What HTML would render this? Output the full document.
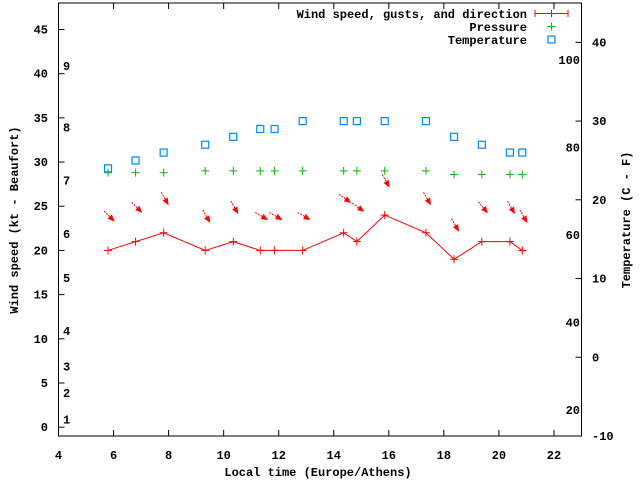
<!DOCTYPE html>
<html><head><meta charset="utf-8"><style>
body{margin:0;background:#fff}
svg text{font-family:"Liberation Mono",monospace;font-weight:bold;font-size:12px;fill:#000}
</style></head><body>
<svg id="c" width="640" height="480" viewBox="0 0 640 480" xmlns="http://www.w3.org/2000/svg"></svg>
<script>
const times=[5.8,6.8,7.82,9.33,10.35,11.33,11.85,12.87,14.36,14.84,15.85,17.35,18.37,19.38,20.4,20.85];
const wind=[20,21,22,20,21,20,20,20,22,21,24,22,19,21,21,20];
const windDir=[315,315,330,330,330,300,300,300,305,305,330,330,330,320,330,330];
const pressure=[28.8,28.8,28.8,29,29,29,29,29,29,29,29,29,28.6,28.6,28.6,28.6];
const temperature=[24,25,26,27,28,29,29,30,30,30,30,30,28,27,26,26];
const xTicks=[4,6,8,10,12,14,16,18,20,22];
const yTicks=[0,5,10,15,20,25,30,35,40,45];
const tTicks=[-10,0,10,20,30,40];
const fTicks=[20,40,60,80,100];
const bftLabels=[1,2,3,4,5,6,7,8,9];
const bftKt=[1,4,7,11,17,22,28,34,41];

const L=58.5,R=581.5,T=3,B=436;
const xS=v=>L+(v-4)/(23-4)*(R-L);
const yS=v=>B-(v+1)/(48+1)*(B-T);
const tS=c=>B-(c+10)/(45+10)*(B-T);
const svg=document.getElementById('c');
const NS='http://www.w3.org/2000/svg';
function mk(tag,attrs,parent){const e=document.createElementNS(NS,tag);for(const k in attrs)e.setAttribute(k,attrs[k]);(parent||svg).appendChild(e);return e;}
function txt(x,y,s,anchor,parent){const e=mk('text',{x:x,y:y,'text-anchor':anchor||'start'},parent);e.textContent=s;return e;}

// frame
const fr=mk('rect',{x:L,y:T,width:R-L,height:B-T,fill:'none',stroke:'#000','stroke-width':1});



// x ticks
const gx=mk('g',{});


xTicks.forEach(v=>{const x=xS(v);
 mk('line',{x1:x,y1:B,x2:x,y2:B-6,stroke:'#000'},gx);
 mk('line',{x1:x,y1:T,x2:x,y2:T+6,stroke:'#000'},gx);
 const t=txt(x,459,String(v),'middle',gx);
 
 });
const gy=mk('g',{});


yTicks.forEach(v=>{const y=yS(v);
 mk('line',{x1:L,y1:y,x2:L+6,y2:y,stroke:'#000'},gy);
 const t=txt(48,y+4,String(v),'end',gy);
 
 });
const gt=mk('g',{});


tTicks.forEach(v=>{const y=tS(v);
 mk('line',{x1:R,y1:y,x2:R-6,y2:y,stroke:'#000'},gt);
 const t=txt(592,y+4,String(v),'start',gt);
 
 });
fTicks.forEach(f=>{const y=tS((f-32)*5/9);
 const t=txt(580,y+4,String(f),'end',gt);
 
 });
bftLabels.forEach((b,i)=>{const t=txt(63,yS(bftKt[i])+5,String(b),'start');
 
 });

// axis titles
const xt=txt(318,476,'Local time (Europe/Athens)','middle');


const yt=txt(0,0,'Wind speed (kt - Beaufort)','middle');
yt.setAttribute('transform','translate(18,220) rotate(-90)');


const y2=txt(0,0,'Temperature (C - F)','middle');
y2.setAttribute('transform','translate(630,220) rotate(-90)');



function plus(x,y,col,parent,name){const g=mk('g',{stroke:col,'stroke-width':1},parent);
 
 
 mk('line',{x1:x-4,y1:y,x2:x+4,y2:y},g);mk('line',{x1:x,y1:y-4,x2:x,y2:y+4},g);return g;}

// wind line
const pts=times.map((t,i)=>xS(t)+','+yS(wind[i])).join(' ');
const wl=mk('polyline',{points:pts,fill:'none',stroke:'#f00','stroke-width':1});


times.forEach((t,i)=>plus(xS(t),yS(wind[i]),'#f00',svg,'wind-point'));

// arrows
times.forEach((t,i)=>{const to=(windDir[i]+180)*Math.PI/180;
 const dx=Math.sin(to),dy=-Math.cos(to);
 const cx=xS(t)+1,cy=yS(wind[i]+3.9),h=7;
 const x1=cx-dx*h,y1=cy-dy*h,x2=cx+dx*h,y2=cy+dy*h;
 const g=mk('g',{});
 
 
 mk('line',{x1:x1,y1:y1,x2:x2,y2:y2,stroke:'#f00','stroke-width':1,'stroke-dasharray':'2,1'},g);
 const px=-dy,py=dx;
 mk('polygon',{points:`${x2+dx*1},${y2+dy*1} ${x2-dx*6+px*3},${y2-dy*6+py*3} ${x2-dx*6-px*3},${y2-dy*6-py*3}`,fill:'#f00'},g);});

// pressure
times.forEach((t,i)=>plus(xS(t),yS(pressure[i]),'#0b0',svg,'pressure-point'));
// temperature
times.forEach((t,i)=>{const r=mk('rect',{x:xS(t)-3.5,y:tS(temperature[i])-3.5,width:7,height:7,fill:'none',stroke:'#08f','stroke-width':1.2});
 
 });

// legend
const lg=mk('g',{});


const l1=txt(527,18,'Wind speed, gusts, and direction','end',lg);


mk('line',{x1:535,y1:13.5,x2:568,y2:13.5,stroke:'#f00'},lg);
mk('line',{x1:535,y1:10,x2:535,y2:17,stroke:'#f00'},lg);
mk('line',{x1:568,y1:10,x2:568,y2:17,stroke:'#f00'},lg);
mk('line',{x1:551.5,y1:10,x2:551.5,y2:17,stroke:'#f00'},lg);
const l2=txt(527,31,'Pressure','end',lg);


plus(551.5,26.5,'#0b0',lg,'legend-pressure-marker');
const l3=txt(527,44,'Temperature','end',lg);


mk('rect',{x:548,y:36,width:7,height:7,fill:'none',stroke:'#08f','stroke-width':1.2},lg);
</script>
</body></html>
